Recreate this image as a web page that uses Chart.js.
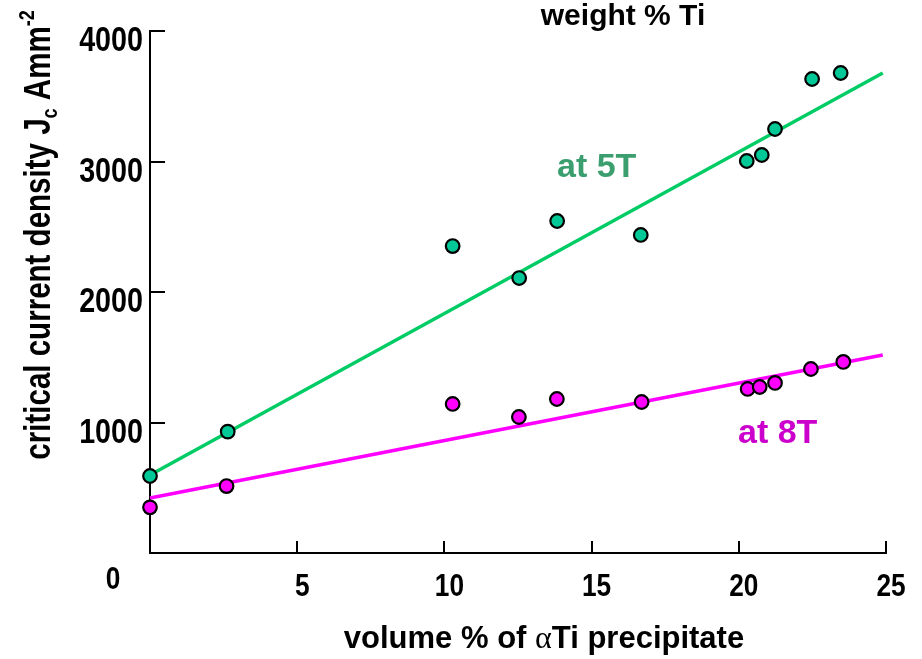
<!DOCTYPE html>
<html lang="en">
<head>
<meta charset="UTF-8">
<title>Jc vs volume % alpha Ti</title>
<script src="https://cdn.jsdelivr.net/npm/chart.js@4.4.1/dist/chart.umd.min.js"></script>
<style>
  *{margin:0;padding:0;box-sizing:border-box;}
  body{background:#fff;}
  #box{width:922px;height:659px;}
</style>
</head>
<body>
<div id="box"><canvas id="jcChart" width="922" height="659"></canvas></div>
<script>
// data
const volTi5T = [0, 2.64, 10.28, 12.54, 13.83, 16.67, 20.27, 20.78, 21.23, 22.49, 23.46];
const jc5T    = [590, 930, 2352, 2107, 2544, 2437, 3004, 3050, 3249, 3632, 3678];
const volTi8T = [0, 2.6, 10.28, 12.53, 13.82, 16.70, 20.30, 20.71, 21.23, 22.45, 23.55];
const jc8T    = [350, 513, 1142, 1042, 1180, 1157, 1257, 1272, 1303, 1410, 1464];
// straight fit lines
const fitX  = [0, 24.89];
const fit5T = [598, 3678];
const fit8T = [421, 1517];
const xTicks = [5, 10, 15, 20, 25];
const yTicks = [1000, 2000, 3000, 4000];

const FONT = '"Liberation Sans", Arial, sans-serif';
const NARROW = 0.82;  // no narrow font here, squeeze it

function pts(xs, ys){ return xs.map((x,i)=>({x:x, y:ys[i]})); }

function narrowText(ctx, txt, x, y, size, align){
  ctx.save();
  ctx.translate(x, y);
  ctx.scale(NARROW, 1);
  ctx.font = 'bold ' + size + 'px ' + FONT;
  ctx.textAlign = align;
  ctx.fillText(txt, 0, 0);
  ctx.restore();
}

// inward ticks, tick labels, titles and labels
const extras = {
  id:'extras',
  afterDraw(chart){
    const ctx = chart.ctx, xs = chart.scales.x, ys = chart.scales.y;
    const ca = chart.chartArea;
    ctx.save();
    ctx.strokeStyle = '#000';
    ctx.lineWidth = 2;
    ctx.beginPath();
    xTicks.forEach(v=>{
      const px = Math.round(xs.getPixelForValue(v));
      ctx.moveTo(px, ca.bottom); ctx.lineTo(px, ca.bottom-12);
    });
    yTicks.forEach(v=>{
      const py = Math.round(ys.getPixelForValue(v));
      ctx.moveTo(ca.left, py); ctx.lineTo(ca.left+15, py);
    });
    ctx.stroke();

    ctx.fillStyle = '#000';
    ctx.textBaseline = 'alphabetic';
    // tick labels
    xTicks.forEach(v=>{
      narrowText(ctx, String(v), xs.getPixelForValue(v)+5, 596, 32, 'center');
    });
    yTicks.forEach(v=>{
      narrowText(ctx, String(v), ca.left-7, ys.getPixelForValue(v)+20, 35, 'right');
    });
    narrowText(ctx, '0', ca.left-37, 589, 32, 'center');

    // top text
    ctx.textAlign = 'center';
    ctx.font = 'bold 30px ' + FONT;
    ctx.fillText('weight % Ti', 623, 25);

    // x title with greek alpha
    ctx.textAlign = 'left';
    const p1 = 'volume % of ', p3 = 'Ti precipitate';
    ctx.font = 'bold 31px ' + FONT;
    const w1 = ctx.measureText(p1).width, w3 = ctx.measureText(p3).width;
    ctx.font = '32px "Liberation Serif", serif';
    const w2 = ctx.measureText('\u03B1').width;
    const x0 = 544 - (w1+w2+w3)/2;
    ctx.font = 'bold 31px ' + FONT;
    ctx.fillText(p1, x0, 648);
    ctx.font = '32px "Liberation Serif", serif';
    ctx.fillText('\u03B1', x0+w1, 648);
    ctx.font = 'bold 31px ' + FONT;
    ctx.fillText(p3, x0+w1+w2, 648);

    // y title, rotated and squeezed
    ctx.save();
    ctx.translate(50, 235);
    ctx.rotate(-Math.PI/2);
    ctx.scale(NARROW, 1);
    const a = 'critical current density J', b = 'c', c = ' Amm', d = '-2';
    ctx.font = 'bold 36px ' + FONT;
    const wa = ctx.measureText(a).width, wc = ctx.measureText(c).width;
    ctx.font = 'bold 22px ' + FONT;
    const wb = ctx.measureText(b).width, wd = ctx.measureText(d).width;
    let s = -(wa+wb+wc+wd)/2;
    ctx.font = 'bold 36px ' + FONT;
    ctx.fillText(a, s, 0); s += wa;
    ctx.font = 'bold 22px ' + FONT;
    ctx.fillText(b, s, 7); s += wb;
    ctx.font = 'bold 36px ' + FONT;
    ctx.fillText(c, s, 0); s += wc;
    ctx.font = 'bold 22px ' + FONT;
    ctx.fillText(d, s, -16);
    ctx.restore();

    // series labels
    ctx.textAlign = 'left';
    ctx.font = 'bold 34px ' + FONT;
    ctx.fillStyle = '#3A9E6E';
    ctx.fillText('at 5T', 557, 177);
    ctx.fillStyle = '#CC00CC';
    ctx.fillText('at 8T', 738, 443);
    ctx.restore();
  }
};

new Chart(document.getElementById('jcChart'), {
  type:'scatter',
  plugins:[extras],
  data:{
    datasets:[
      {label:'5T', data:pts(volTi5T, jc5T), backgroundColor:'#00C896', borderColor:'#000',
       borderWidth:2.2, pointRadius:6.8, order:0, clip:false},
      {label:'8T', data:pts(volTi8T, jc8T), backgroundColor:'#FF00FF', borderColor:'#000',
       borderWidth:2.2, pointRadius:6.8, order:0, clip:false},
      {label:'fit 5T', data:pts(fitX, fit5T), showLine:true, borderColor:'#00CC66',
       borderWidth:3.5, pointRadius:0, order:1, clip:false},
      {label:'fit 8T', data:pts(fitX, fit8T), showLine:true, borderColor:'#FF00FF',
       borderWidth:3.5, pointRadius:0, order:1, clip:false}
    ]
  },
  options:{
    responsive:false,
    animation:false,
    events:[],
    layout:{padding:{left:0, top:31, right:36, bottom:0}},
    plugins:{legend:{display:false}, tooltip:{enabled:false}},
    scales:{
      x:{
        min:0, max:25,
        afterFit(s){ s.height = 106; },
        grid:{display:false, drawTicks:false},
        border:{display:true, color:'#000', width:2},
        ticks:{stepSize:5, display:false}
      },
      y:{
        min:0, max:4000,
        afterFit(s){ s.width = 150; },
        grid:{display:false, drawTicks:false},
        border:{display:true, color:'#000', width:2},
        ticks:{stepSize:1000, display:false}
      }
    }
  }
});
</script>
</body>
</html>
